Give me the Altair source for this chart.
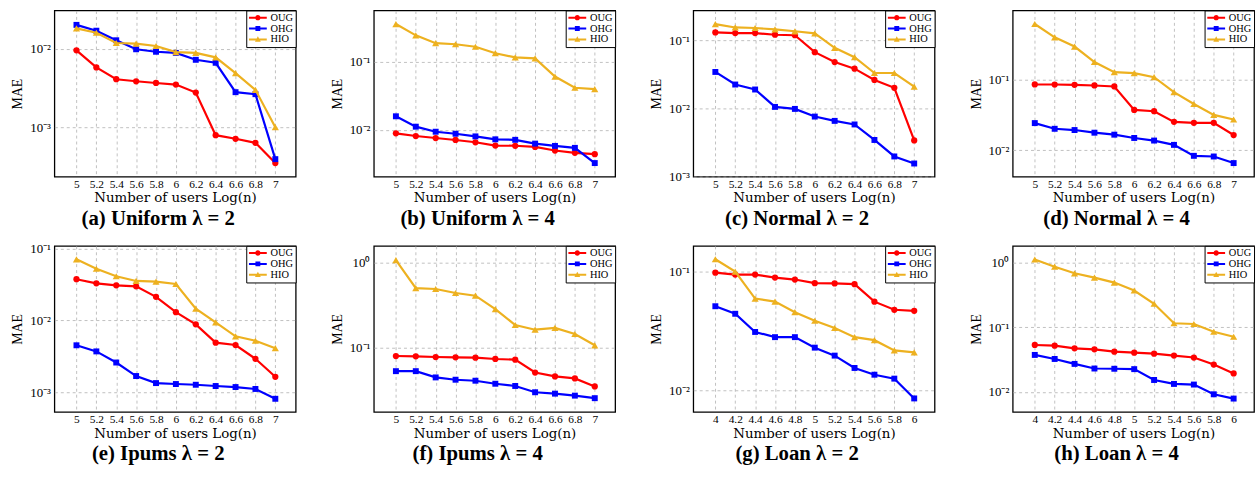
import altair as alt
import pandas as pd

SERIES = ["OUG", "OHG", "HIO"]
COLORS = ["#ff0000", "#0000ff", "#edb120"]
MARKERS = ["circle", "square", "triangle-up"]

X_MAIN = [5.0, 5.2, 5.4, 5.6, 5.8, 6.0, 6.2, 6.4, 6.6, 6.8, 7.0]
X_LOAN = [4.0, 4.2, 4.4, 4.6, 4.8, 5.0, 5.2, 5.4, 5.6, 5.8, 6.0]

A_OUG = [0.0096, 0.0058, 0.0041, 0.00386, 0.00367, 0.0035, 0.00277, 0.00079, 0.00071, 0.00063, 0.000347]
A_OHG = [0.0203, 0.0171, 0.0129, 0.0099, 0.0092, 0.0089, 0.00726, 0.00665, 0.0028, 0.00264, 0.00039]
A_HIO = [0.0183, 0.0161, 0.0119, 0.0117, 0.0109, 0.0091, 0.0089, 0.0078, 0.0049, 0.0030, 0.0010]

B_OUG = [0.00884, 0.00808, 0.00755, 0.00706, 0.00653, 0.00583, 0.0058, 0.00557, 0.00493, 0.00456, 0.00436]
B_OHG = [0.0158, 0.0111, 0.00935, 0.00873, 0.00798, 0.00722, 0.0071, 0.00624, 0.00577, 0.0054, 0.00322]
B_HIO = [0.364, 0.248, 0.19, 0.183, 0.168, 0.135, 0.117, 0.113, 0.061, 0.0417, 0.0398]

C_OUG = [0.132, 0.129, 0.129, 0.122, 0.12, 0.0676, 0.0483, 0.0387, 0.0264, 0.0202, 0.0034]
C_OHG = [0.0346, 0.0226, 0.0191, 0.0106, 0.0099, 0.00764, 0.0066, 0.00585, 0.00346, 0.00198, 0.00156]
C_HIO = [0.175, 0.156, 0.153, 0.146, 0.137, 0.128, 0.0782, 0.0571, 0.0334, 0.0334, 0.0211]

D_OUG = [0.0851, 0.085, 0.0842, 0.0824, 0.0798, 0.0372, 0.0356, 0.0252, 0.0244, 0.0244, 0.0164]
D_OHG = [0.0242, 0.0201, 0.0193, 0.0177, 0.0166, 0.0149, 0.0137, 0.0119, 0.00833, 0.00815, 0.00658]
D_HIO = [0.61, 0.396, 0.293, 0.177, 0.127, 0.123, 0.108, 0.0664, 0.0451, 0.0316, 0.0272]

E_OUG = [0.0374, 0.0328, 0.0308, 0.0298, 0.0213, 0.013, 0.0088, 0.0049, 0.00454, 0.00292, 0.00164]
E_OHG = [0.0045, 0.0037, 0.00259, 0.00168, 0.00134, 0.0013, 0.00127, 0.00122, 0.00118, 0.00111, 0.00081]
E_HIO = [0.0708, 0.0523, 0.0412, 0.0354, 0.0346, 0.0321, 0.0146, 0.0094, 0.006, 0.0052, 0.0041]

F_OUG = [0.0792, 0.0785, 0.0771, 0.0764, 0.0757, 0.0731, 0.0718, 0.0506, 0.0455, 0.0431, 0.0347]
F_OHG = [0.0525, 0.0525, 0.0443, 0.0416, 0.0405, 0.0373, 0.0351, 0.0296, 0.0285, 0.027, 0.0252]
F_HIO = [1.07, 0.501, 0.489, 0.439, 0.408, 0.283, 0.184, 0.162, 0.17, 0.144, 0.106]

G_OUG = [0.0987, 0.095, 0.095, 0.0897, 0.0863, 0.0805, 0.08, 0.0789, 0.0562, 0.048, 0.047]
G_OHG = [0.0514, 0.0444, 0.0312, 0.0282, 0.0282, 0.023, 0.0197, 0.0155, 0.0136, 0.0126, 0.00858]
G_HIO = [0.128, 0.1007, 0.0596, 0.0562, 0.0458, 0.0388, 0.0337, 0.0282, 0.0266, 0.0218, 0.021]

H_OUG = [0.0531, 0.0518, 0.0471, 0.0455, 0.0419, 0.0404, 0.039, 0.0364, 0.034, 0.0265, 0.0193]
H_OHG = [0.0373, 0.0323, 0.0271, 0.023, 0.0228, 0.0225, 0.0153, 0.0133, 0.013, 0.0092, 0.0079]
H_HIO = [1.11, 0.859, 0.679, 0.582, 0.488, 0.368, 0.23, 0.115, 0.112, 0.085, 0.0711]

CAPTIONS = ["(a) Uniform λ = 2", "(b) Uniform λ = 4", "(c) Normal λ = 2", "(d) Normal λ = 4",
            "(e) Ipums λ = 2", "(f) Ipums λ = 4", "(g) Loan λ = 2", "(h) Loan λ = 4"]

Y_LO = [2.33e-4, 0.00203, 1.0e-3, 0.00423, 5.3e-4, 0.0173, 0.00659, 0.0049]
Y_HI = [0.031, 0.577, 0.277, 0.948, 0.109, 1.58, 0.166, 1.8]
Y_TICKS = [[1e-3, 1e-2], [1e-2, 1e-1], [1e-3, 1e-2, 1e-1], [1e-2, 1e-1],
           [1e-3, 1e-2, 1e-1], [1e-1, 1.0], [1e-2, 1e-1], [1e-2, 1e-1, 1.0]]

PANEL_DATA = [
    (X_MAIN, A_OUG, A_OHG, A_HIO), (X_MAIN, B_OUG, B_OHG, B_HIO),
    (X_MAIN, C_OUG, C_OHG, C_HIO), (X_MAIN, D_OUG, D_OHG, D_HIO),
    (X_MAIN, E_OUG, E_OHG, E_HIO), (X_MAIN, F_OUG, F_OHG, F_HIO),
    (X_LOAN, G_OUG, G_OHG, G_HIO), (X_LOAN, H_OUG, H_OHG, H_HIO),
]

# legend symbols: a short line with the marker in its middle
LEGEND_PATHS = [
    "M-1,-0.22H3V0.22H-1Z M0.4,0A0.6,0.6 0 1,1 1.6,0A0.6,0.6 0 1,1 0.4,0Z",
    "M-1,-0.22H3V0.22H-1Z M0.45,-0.55H1.55V0.55H0.45Z",
    "M-1,-0.22H3V0.22H-1Z M1,-0.7L1.65,0.5H0.35Z",
]
MARKER_SIZES = [40, 36, 52]

FONT = "Liberation Serif"
W, H = 244, 168

Y_LABEL_EXPR = ("datum.value >= 0.99 ? '10⁰' : datum.value >= 0.099 ? '10⁻¹' : "
                "datum.value >= 0.0099 ? '10⁻²' : '10⁻³'")


def panel(i):
    xs, oug, ohg, hio = PANEL_DATA[i]
    rows = []
    for name, vals in zip(SERIES, [oug, ohg, hio]):
        for x, v in zip(xs, vals):
            rows.append({"x": x, "mae": v, "series": name})
    df = pd.DataFrame(rows)
    xlo, xhi = xs[0] - 0.222, xs[-1] + 0.205
    xenc = alt.X("x:Q", scale=alt.Scale(domain=[xlo, xhi], nice=False, zero=False),
                 axis=alt.Axis(values=xs, format=".1~f", title="Number of users Log(n)",
                               grid=True, gridDash=[3, 3], gridColor="#b0b0b0", gridWidth=0.8,
                               tickSize=0, domain=False, labelFontSize=11.5, labelPadding=2,
                               labelOverlap=False, labelFlush=False,
                               titleFont="DejaVu Serif", titleFontSize=13.5, titlePadding=1,
                               titleFontWeight="normal"))
    yenc = alt.Y("mae:Q", scale=alt.Scale(type="log", domain=[Y_LO[i], Y_HI[i]], nice=False),
                 axis=alt.Axis(values=Y_TICKS[i], labelExpr=Y_LABEL_EXPR, title="MAE",
                               grid=True, gridDash=[3, 3], gridColor="#b0b0b0", gridWidth=0.8,
                               tickSize=0, domain=False, labelFontSize=13, labelPadding=4,
                               labelOverlap=False, labelFlush=False,
                               minExtent=27, maxExtent=27,
                               titleFontSize=14, titlePadding=3, titleFontWeight="normal"))
    base = alt.Chart(df)
    layers = []
    for name, mk, col, sz in zip(SERIES, MARKERS, COLORS, MARKER_SIZES):
        sub = base.transform_filter(alt.datum.series == name)
        layers.append(sub.mark_line(strokeWidth=2.2, color=col).encode(x=xenc, y=yenc))
        layers.append(sub.mark_point(shape=mk, filled=True, opacity=1, color=col,
                                     size=sz).encode(x=xenc, y=yenc))
    layers.append(base.mark_point(filled=True).encode(
        x=xenc, y=yenc,
        opacity=alt.value(0),
        color=alt.Color("series:N", scale=alt.Scale(domain=SERIES, range=COLORS),
                        legend=alt.Legend(title=None)),
        shape=alt.Shape("series:N", scale=alt.Scale(domain=SERIES, range=LEGEND_PATHS),
                        legend=alt.Legend(title=None)),
    ))
    return alt.layer(*layers).properties(
        width=W, height=H,
        title=alt.TitleParams(CAPTIONS[i], orient="bottom", fontSize=21, fontWeight="bold",
                              font=FONT, offset=4, dx=-17, anchor="middle"),
    )


row1 = alt.hconcat(*[panel(i) for i in range(4)], spacing=32).resolve_scale(
    color="independent", shape="independent").resolve_legend(color="independent", shape="independent")
row2 = alt.hconcat(*[panel(i) for i in range(4, 8)], spacing=32).resolve_scale(
    color="independent", shape="independent").resolve_legend(color="independent", shape="independent")

chart = alt.vconcat(row1, row2, spacing=12).resolve_scale(
    color="independent", shape="independent").resolve_legend(
    color="independent", shape="independent").properties(
    padding={"left": 10, "top": 6, "right": 0, "bottom": 0}
).configure(font=FONT).configure_view(
    stroke="black", strokeWidth=1.3
).configure_legend(
    orient="top-right", offset=0, padding=2, strokeColor="black", fillColor="white",
    labelFont=FONT, labelFontSize=10.5, symbolSize=81, symbolStrokeWidth=0,
    symbolOpacity=1, labelOffset=12, rowPadding=0, cornerRadius=0, labelColor="black"
).configure_axis(labelFont=FONT, titleFont=FONT, labelColor="black", titleColor="black")

chart.save("out.html", embed_options={"renderer": "svg", "actions": False})
